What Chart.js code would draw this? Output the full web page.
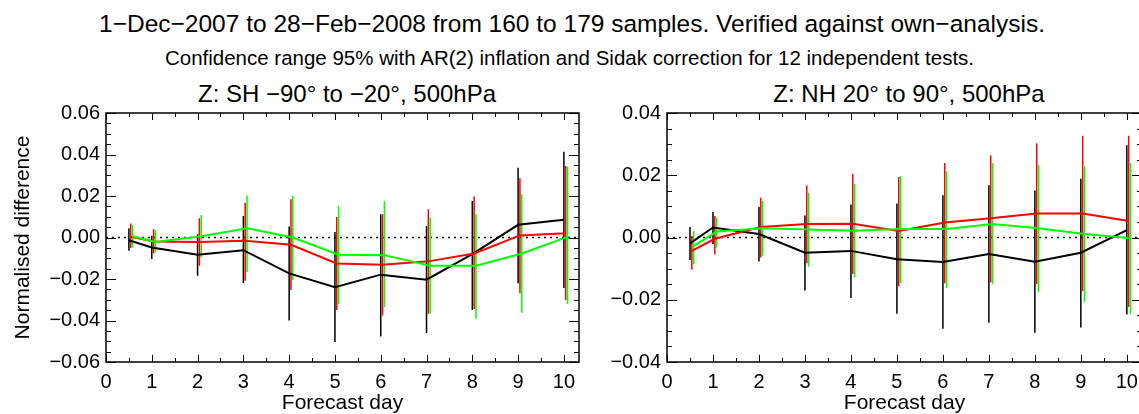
<!DOCTYPE html>
<html>
<head>
<meta charset="utf-8">
<script src="https://cdn.jsdelivr.net/npm/chart.js@4"></script>
<style>
    html, body { margin: 0; padding: 0; background: #fff; overflow: hidden; }
    body { width: 1139px; height: 414px; position: relative; font-family: "Liberation Sans", Arial, sans-serif; color: #000; }
    .txt { position: absolute; text-align: center; white-space: nowrap; line-height: normal; }
    #title { left: 0; width: 1144px; top: 10px; font-size: 24.5px; }
    #subtitle { left: 0; width: 1139px; top: 46px; font-size: 20.5px; }
    #sh-title { left: 147px; width: 400px; top: 80px; font-size: 24px; }
    #nh-title { left: 709px; width: 400px; top: 80px; font-size: 24px; }
    canvas { position: absolute; top: 0; }
    #sh-chart { left: 0; }
    #nh-chart { left: 600px; }
</style>
</head>
<body>
<div class="txt" id="title">1−Dec−2007 to 28−Feb−2008 from 160 to 179 samples. Verified against own−analysis.</div>
<div class="txt" id="subtitle">Confidence range 95% with AR(2) inflation and Sidak correction for 12 independent tests.</div>
<div class="txt" id="sh-title">Z: SH −90° to −20°, 500hPa</div>
<div class="txt" id="nh-title">Z: NH 20° to 90°, 500hPa</div>
<canvas id="sh-chart" width="600" height="414"></canvas>
<canvas id="nh-chart" width="560" height="414"></canvas>
<script>
// forecast days (first point is day 0.5)
const days = [0.5, 1, 2, 3, 4, 5, 6, 7, 8, 9, 10];
const xTicks = [0, 1, 2, 3, 4, 5, 6, 7, 8, 9, 10];
const shTicks = [-0.06, -0.04, -0.02, 0, 0.02, 0.04, 0.06];
const nhTicks = [-0.04, -0.02, 0, 0.02, 0.04];

// SH -90 to -20, 500hPa
const shBlack   = [-0.0013, -0.0048, -0.0083, -0.0061, -0.0173, -0.0240, -0.0179, -0.0203, -0.0080, 0.0061, 0.0086];
const shBlackLo = [-0.0064, -0.0104, -0.0184, -0.0219, -0.0400, -0.0504, -0.0477, -0.0460, -0.0349, -0.0221, -0.0243];
const shBlackHi = [0.0045, 0.0008, 0.0016, 0.0104, 0.0053, 0.0027, 0.0112, 0.0056, 0.0176, 0.0336, 0.0413];
const shRed     = [0.0003, -0.0019, -0.0022, -0.0016, -0.0035, -0.0125, -0.0131, -0.0115, -0.0077, 0.0010, 0.0021];
const shRedLo   = [-0.0051, -0.0077, -0.0136, -0.0208, -0.0253, -0.0349, -0.0376, -0.0368, -0.0344, -0.0269, -0.0301];
const shRedHi   = [0.0067, 0.0040, 0.0093, 0.0168, 0.0184, 0.0099, 0.0112, 0.0136, 0.0197, 0.0285, 0.0344];
const shGreen   = [0.0006, -0.0022, 0.0006, 0.0045, 0.0000, -0.0083, -0.0085, -0.0136, -0.0136, -0.0077, 0.0003];
const shGreenLo = [-0.0048, -0.0072, -0.0096, -0.0168, -0.0205, -0.0320, -0.0336, -0.0368, -0.0392, -0.0363, -0.0320];
const shGreenHi = [0.0060, 0.0035, 0.0109, 0.0203, 0.0200, 0.0152, 0.0176, 0.0096, 0.0112, 0.0208, 0.0341];

// NH 20 to 90, 500hPa
const nhBlack   = [-0.0019, 0.0032, 0.0011, -0.0049, -0.0043, -0.0070, -0.0079, -0.0053, -0.0078, -0.0049, 0.0024];
const nhBlackLo = [-0.0072, -0.0021, -0.0077, -0.0170, -0.0194, -0.0245, -0.0293, -0.0274, -0.0306, -0.0289, -0.0247];
const nhBlackHi = [0.0034, 0.0082, 0.0098, 0.0071, 0.0106, 0.0109, 0.0136, 0.0168, 0.0151, 0.0189, 0.0296];
const nhRed     = [-0.0043, -0.0004, 0.0034, 0.0043, 0.0044, 0.0021, 0.0048, 0.0062, 0.0077, 0.0077, 0.0053];
const nhRedLo   = [-0.0104, -0.0055, -0.0064, -0.0083, -0.0117, -0.0157, -0.0147, -0.0144, -0.0149, -0.0172, -0.0223];
const nhRedHi   = [0.0005, 0.0069, 0.0128, 0.0167, 0.0204, 0.0194, 0.0239, 0.0264, 0.0303, 0.0327, 0.0327];
const nhGreen   = [-0.0028, 0.0019, 0.0030, 0.0026, 0.0022, 0.0027, 0.0027, 0.0043, 0.0030, 0.0011, -0.0002];
const nhGreenLo = [-0.0087, -0.0032, -0.0059, -0.0094, -0.0128, -0.0147, -0.0162, -0.0149, -0.0176, -0.0207, -0.0245];
const nhGreenHi = [0.0021, 0.0064, 0.0117, 0.0144, 0.0172, 0.0197, 0.0213, 0.0239, 0.0234, 0.0229, 0.0239];

const X_MAX = 10.33;
const FONT = "'Liberation Sans', Arial, sans-serif";

// box with inward ticks on all four sides, like the IDL plot
const idlFrame = {
    id: 'idlFrame',
    afterDatasetsDraw(chart) {
        const { ctx, chartArea: a, scales: { x, y } } = chart;
        ctx.save();
        ctx.strokeStyle = '#000';
        ctx.lineWidth = 1;
        ctx.beginPath();
        for (let k = 0; k <= 20; k++) {
            const px = Math.round(x.getPixelForValue(k / 2)) + 0.5;
            const len = k % 2 ? 4 : 7;
            ctx.moveTo(px, a.bottom); ctx.lineTo(px, a.bottom - len);
            ctx.moveTo(px, a.top); ctx.lineTo(px, a.top + len);
        }
        const k0 = Math.round(y.min / 0.005), k1 = Math.round(y.max / 0.005);
        for (let k = k0; k <= k1; k++) {
            const py = Math.round(y.getPixelForValue(k * 0.005)) + 0.5;
            const len = k % 4 ? 5 : 10;
            ctx.moveTo(a.left, py); ctx.lineTo(a.left + len, py);
            ctx.moveTo(a.right, py); ctx.lineTo(a.right - len, py);
        }
        ctx.stroke();
        ctx.lineWidth = 1.5;
        ctx.strokeRect(a.left, a.top, a.width, a.height);
        ctx.restore();
    }
};

function linePoints(vals, off) {
    return days.map((d, i) => ({ x: d + off, y: vals[i] }));
}

function barPoints(lo, hi, off) {
    const pts = [];
    days.forEach((d, i) => {
        pts.push({ x: d + off, y: lo[i] }, { x: d + off, y: hi[i] }, { x: d + off, y: null });
    });
    return pts;
}

function fmt(v) {
    const s = Math.abs(v).toFixed(2);
    return v < -1e-9 ? '\u2212' + s : s;
}

function makeChart(id, series, yMin, yMax, yTicks, yWidth, rightPad, yTitle) {
    const datasets = [];
    const offsets = [0, 0.04, 0.08];
    const colors = ['#000000', '#ff0000', '#00ff00'];
    series.forEach((s, j) => {
        datasets.push({
            data: barPoints(s[1], s[2], offsets[j]),
            borderColor: colors[j], borderWidth: 1.5, pointRadius: 0, spanGaps: false, order: 10 - j
        });
    });
    series.forEach((s, j) => {
        datasets.push({
            data: linePoints(s[0], offsets[j]),
            borderColor: colors[j], borderWidth: 2, pointRadius: 0, order: 5 - j
        });
    });
    // dotted zero line
    datasets.push({
        data: [{ x: 0, y: 0 }, { x: X_MAX, y: 0 }],
        borderColor: '#000', borderWidth: 1.5, borderDash: [2, 4], pointRadius: 0, order: 20
    });

    return new Chart(document.getElementById(id), {
        type: 'line',
        data: { datasets },
        plugins: [idlFrame],
        options: {
            responsive: false,
            animation: false,
            events: [],
            layout: { padding: { left: 0, top: 113, right: rightPad, bottom: 0 } },
            plugins: { legend: { display: false }, tooltip: { enabled: false } },
            scales: {
                x: {
                    type: 'linear', min: 0, max: X_MAX,
                    afterFit: s => { s.height = 52; },
                    afterBuildTicks: s => { s.ticks = xTicks.map(v => ({ value: v })); },
                    grid: { display: false, drawTicks: false },
                    border: { display: false },
                    ticks: { color: '#000', padding: 8, font: { family: FONT, size: 20 }, maxRotation: 0 },
                    title: { display: true, text: 'Forecast day', color: '#000', padding: { top: 0, bottom: 0 }, font: { family: FONT, size: 21, lineHeight: 1 } }
                },
                y: {
                    type: 'linear', min: yMin, max: yMax,
                    afterFit: s => { s.width = yWidth; },
                    afterBuildTicks: s => { s.ticks = yTicks.map(v => ({ value: v })); },
                    grid: { display: false, drawTicks: false },
                    border: { display: false },
                    ticks: { color: '#000', padding: 6, font: { family: FONT, size: 20 }, callback: v => fmt(v) },
                    title: { display: !!yTitle, text: yTitle, color: '#000', padding: { top: 11, bottom: 0 }, font: { family: FONT, size: 21 } }
                }
            }
        }
    });
}

makeChart('sh-chart', [
    [shBlack, shBlackLo, shBlackHi],
    [shRed, shRedLo, shRedHi],
    [shGreen, shGreenLo, shGreenHi]
], -0.06, 0.06, shTicks, 106, 21, 'Normalised difference');

makeChart('nh-chart', [
    [nhBlack, nhBlackLo, nhBlackHi],
    [nhRed, nhRedLo, nhRedHi],
    [nhGreen, nhGreenLo, nhGreenHi]
], -0.04, 0.04, nhTicks, 67, 18, '');
</script>
</body>
</html>
